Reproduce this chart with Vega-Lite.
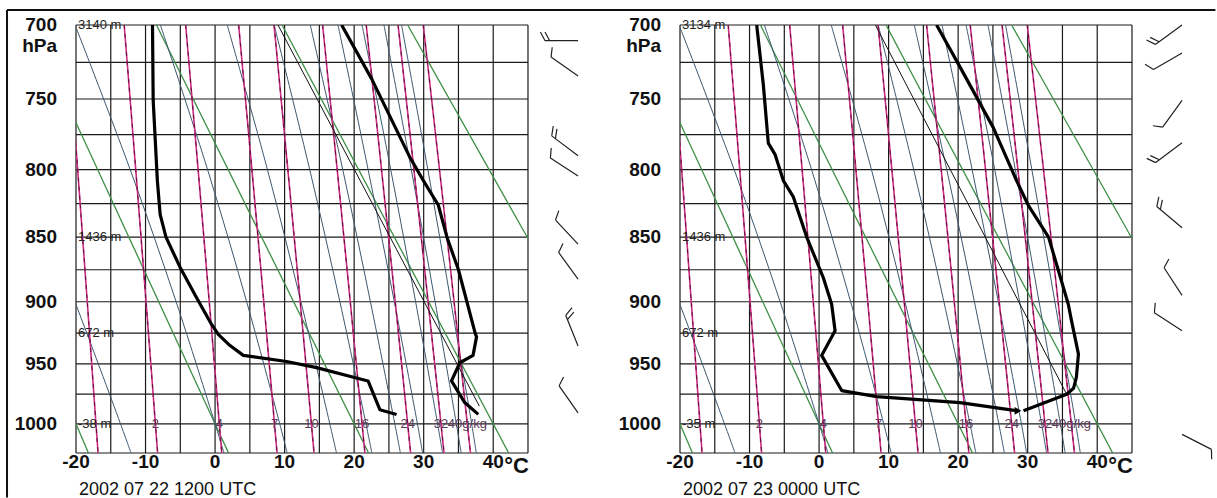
{
"$schema":"https://vega.github.io/schema/vega-lite/v6.json",
"background":"white",
"padding":{"left":6,"top":8,"right":0,"bottom":0},
"bounds":"flush",
"spacing":71,
"config":{"view":{"stroke":null},"text":{"font":"Liberation Sans"}},
"datasets":{
"gridT":[{"t":-20},{"t":-15},{"t":-10},{"t":-5},{"t":0},{"t":5},{"t":10},{"t":15},{"t":20},{"t":25},{"t":30},{"t":35},{"t":40},{"t":45}],
"gridP":[{"p":700},{"p":725},{"p":750},{"p":775},{"p":800},{"p":825},{"p":850},{"p":875},{"p":900},{"p":925},{"p":950},{"p":975},{"p":1000},{"p":1025}],
"ylab":[{"p":700,"s":"700"},{"p":750,"s":"750"},{"p":800,"s":"800"},{"p":850,"s":"850"},{"p":900,"s":"900"},{"p":950,"s":"950"},{"p":1000,"s":"1000"}],
"xlab":[{"t":-20,"s":"-20"},{"t":-10,"s":"-10"},{"t":0,"s":"0"},{"t":10,"s":"10"},{"t":20,"s":"20"},{"t":30,"s":"30"},{"t":40,"s":"40"}],
"dry":[{"id":"d1","p":700,"t":-44.55},{"id":"d1","p":1025,"t":-18.21},{"id":"d2","p":700,"t":-26.49},{"id":"d2","p":1025,"t":1.94},{"id":"d3","p":700,"t":-8.43},{"id":"d3","p":1025,"t":22.08},{"id":"d4","p":700,"t":9.63},{"id":"d4","p":1025,"t":42.22},{"id":"d5","p":700,"t":27.69},{"id":"d5","p":851.1,"t":45.0}],
"moist":[
{"id":"m1","p":800,"t":-27.64},{"id":"m1","p":900,"t":-20.16},{"id":"m1","p":1000,"t":-13.6},{"id":"m1","p":1025,"t":-12.09},
{"id":"m2","p":700,"t":-20.13},{"id":"m2","p":800,"t":-12.21},{"id":"m2","p":900,"t":-5.6},{"id":"m2","p":1000,"t":0},{"id":"m2","p":1025,"t":1.28},
{"id":"m3","p":700,"t":-7.86},{"id":"m3","p":800,"t":-1.08},{"id":"m3","p":900,"t":4.54},{"id":"m3","p":1000,"t":9.3},{"id":"m3","p":1025,"t":10.37},
{"id":"m4","p":700,"t":1.75},{"id":"m4","p":800,"t":7.53},{"id":"m4","p":900,"t":12.35},{"id":"m4","p":1000,"t":16.5},{"id":"m4","p":1025,"t":17.46},
{"id":"m5","p":700,"t":8.5},{"id":"m5","p":800,"t":13.61},{"id":"m5","p":900,"t":17.95},{"id":"m5","p":1000,"t":21.7},{"id":"m5","p":1025,"t":22.55},
{"id":"m6","p":700,"t":13.69},{"id":"m6","p":800,"t":18.36},{"id":"m6","p":900,"t":22.34},{"id":"m6","p":1000,"t":25.85},{"id":"m6","p":1025,"t":26.65},
{"id":"m7","p":700,"t":17.68},{"id":"m7","p":800,"t":22.01},{"id":"m7","p":900,"t":25.78},{"id":"m7","p":1000,"t":29.1},{"id":"m7","p":1025,"t":29.85},
{"id":"m8","p":700,"t":21.14},{"id":"m8","p":800,"t":25.26},{"id":"m8","p":900,"t":28.84},{"id":"m8","p":1000,"t":32.0},{"id":"m8","p":1025,"t":32.72},
{"id":"m9","p":700,"t":24.29},{"id":"m9","p":800,"t":28.22},{"id":"m9","p":900,"t":31.64},{"id":"m9","p":1000,"t":34.7},{"id":"m9","p":1025,"t":35.39},
{"id":"m10","p":700,"t":26.82},{"id":"m10","p":800,"t":30.6},{"id":"m10","p":900,"t":33.91},{"id":"m10","p":1000,"t":36.9},{"id":"m10","p":1025,"t":37.57}],
"mix":[
{"id":"w1","p":700,"t":-21.3},{"id":"w1","p":800,"t":-19.76},{"id":"w1","p":900,"t":-18.38},{"id":"w1","p":1025,"t":-16.83},
{"id":"w2","p":700,"t":-13.07},{"id":"w2","p":800,"t":-11.41},{"id":"w2","p":900,"t":-9.925},{"id":"w2","p":1025,"t":-8.264},
{"id":"w4","p":700,"t":-4.228},{"id":"w4","p":800,"t":-2.438},{"id":"w4","p":900,"t":-0.837},{"id":"w4","p":1025,"t":0.957},
{"id":"w7","p":700,"t":3.389},{"id":"w7","p":800,"t":5.296},{"id":"w7","p":900,"t":7.002},{"id":"w7","p":1025,"t":8.913},
{"id":"w10","p":700,"t":8.478},{"id":"w10","p":800,"t":10.464},{"id":"w10","p":900,"t":12.242},{"id":"w10","p":1025,"t":14.235},
{"id":"w16","p":700,"t":15.463},{"id":"w16","p":800,"t":17.561},{"id":"w16","p":900,"t":19.44},{"id":"w16","p":1025,"t":21.546},
{"id":"w24","p":700,"t":21.737},{"id":"w24","p":800,"t":23.937},{"id":"w24","p":900,"t":25.91},{"id":"w24","p":1025,"t":28.122},
{"id":"w32","p":700,"t":26.317},{"id":"w32","p":800,"t":28.595},{"id":"w32","p":900,"t":30.638},{"id":"w32","p":1025,"t":32.927},
{"id":"w40","p":700,"t":29.935},{"id":"w40","p":800,"t":32.275},{"id":"w40","p":900,"t":34.373},{"id":"w40","p":1025,"t":36.727}],
"mixlab":[{"t":-8.58,"s":"2"},{"t":0.61,"s":"4"},{"t":8.55,"s":"7"},{"t":13.85,"s":"10"},{"t":21.14,"s":"16"},{"t":27.7,"s":"24"},{"t":32.49,"s":"32"},{"t":36.28,"s":"40g/kg"}],
"parcelL":[{"p":985,"t":38.0},{"p":700,"t":9.05}],
"parcelR":[{"p":975,"t":35.6},{"p":700,"t":8.1}],
"profL":[
{"k":"T","p":700,"t":18.2},{"k":"T","p":736,"t":22.5},{"k":"T","p":791,"t":28.0},{"k":"T","p":808,"t":29.95},{"k":"T","p":826,"t":32.1},{"k":"T","p":851,"t":33.4},{"k":"T","p":875,"t":35.0},{"k":"T","p":925,"t":37.4},{"k":"T","p":928,"t":37.6},{"k":"T","p":943,"t":37.1},{"k":"T","p":949,"t":35.2},{"k":"T","p":964,"t":34.0},{"k":"T","p":982,"t":35.9},{"k":"T","p":992,"t":37.85},
{"k":"Td","p":700,"t":-9.0},{"k":"Td","p":751,"t":-8.9},{"k":"Td","p":808,"t":-8.3},{"k":"Td","p":833,"t":-7.9},{"k":"Td","p":850,"t":-7.06},{"k":"Td","p":873,"t":-5.04},{"k":"Td","p":897,"t":-2.64},{"k":"Td","p":918,"t":-0.5},{"k":"Td","p":926,"t":0.46},{"k":"Td","p":935,"t":2.15},{"k":"Td","p":943,"t":4.06},{"k":"Td","p":948,"t":10.3},{"k":"Td","p":953,"t":14.6},{"k":"Td","p":961,"t":19.9},{"k":"Td","p":964,"t":22.0},{"k":"Td","p":988,"t":23.7},{"k":"Td","p":992,"t":26.1}],
"profR":[
{"k":"T","p":700,"t":16.9},{"k":"T","p":728,"t":20.26},{"k":"T","p":770,"t":25.05},{"k":"T","p":808,"t":28.4},{"k":"T","p":826,"t":30.07},{"k":"T","p":850,"t":33.0},{"k":"T","p":902,"t":35.84},{"k":"T","p":915,"t":36.3},{"k":"T","p":942,"t":37.3},{"k":"T","p":961,"t":37.0},{"k":"T","p":970,"t":36.6},{"k":"T","p":975,"t":35.6},{"k":"T","p":989,"t":29.4},
{"k":"Td","p":700,"t":-8.97},{"k":"Td","p":740,"t":-8.02},{"k":"Td","p":781,"t":-7.3},{"k":"Td","p":789,"t":-6.34},{"k":"Td","p":808,"t":-5.14},{"k":"Td","p":820,"t":-3.7},{"k":"Td","p":850,"t":-1.78},{"k":"Td","p":881,"t":0.6},{"k":"Td","p":902,"t":1.81},{"k":"Td","p":923,"t":2.3},{"k":"Td","p":943,"t":0.37},{"k":"Td","p":972,"t":3.25},{"k":"Td","p":977,"t":8.3},{"k":"Td","p":982,"t":20.26},{"k":"Td","p":989,"t":28.6}],
"hgtL":[{"p":700,"s":"3140 m"},{"p":850,"s":"1436 m"},{"p":925,"s":"672 m"},{"p":1000,"s":"-38 m"}],
"hgtR":[{"p":700,"s":"3134 m"},{"p":850,"s":"1436 m"},{"p":925,"s":"672 m"},{"p":1000,"s":"-35 m"}],
"barbL":[{"p":710.4,"dir":270,"s":"b2"},{"p":734.2,"dir":305,"s":"b1"},{"p":790,"dir":307,"s":"b2"},{"p":804.6,"dir":303,"s":"b1"},{"p":855.4,"dir":317,"s":"b1"},{"p":882.3,"dir":324,"s":"b1"},{"p":935.3,"dir":338,"s":"b2"},{"p":990.7,"dir":325,"s":"b1"}],
"barbR":[{"p":700,"dir":234,"s":"b2"},{"p":718.6,"dir":240,"s":"b1"},{"p":751,"dir":216,"s":"b1"},{"p":780.7,"dir":233,"s":"b2"},{"p":843,"dir":310,"s":"b2"},{"p":895,"dir":327,"s":"b1"},{"p":923,"dir":303,"s":"b1"},{"p":1009,"dir":117,"s":"b1"}]
},
"hconcat":[
{
"width":533,"height":428,
"layer":[
{"data":{"name":"gridT"},"mark":{"type":"rule","color":"#1a1a1a","strokeWidth":1.2},"encoding":{
"x":{"field":"t","type":"quantitative","scale":{"domain":[-20,56.65],"nice":false,"zero":false},"axis":null},
"y":{"datum":700,"type":"quantitative","scale":{"type":"pow","exponent":0.286,"domain":[700,1025],"reverse":true,"nice":false,"zero":false},"axis":null},"y2":{"datum":1025}}},
{"data":{"name":"gridP"},"mark":{"type":"rule","color":"#1a1a1a","strokeWidth":1.2},"encoding":{"y":{"field":"p","type":"quantitative","axis":null},"x":{"datum":-20,"type":"quantitative","axis":null},"x2":{"datum":45}}},
{"data":{"name":"dry"},"mark":{"type":"line","color":"#3d8f45","strokeWidth":1.3,"clip":true},"encoding":{"x":{"field":"t","type":"quantitative","axis":null},"y":{"field":"p","type":"quantitative","axis":null},"detail":{"field":"id","type":"nominal"},"order":{"field":"p","type":"quantitative"}}},
{"data":{"name":"moist"},"mark":{"type":"line","color":"#3d5870","strokeWidth":1,"clip":true,"interpolate":"catmull-rom"},"encoding":{"x":{"field":"t","type":"quantitative","axis":null},"y":{"field":"p","type":"quantitative","axis":null},"detail":{"field":"id","type":"nominal"},"order":{"field":"p","type":"quantitative"}}},
{"data":{"name":"mix"},"mark":{"type":"line","color":"#cc2a85","strokeWidth":1.6,"clip":true,"interpolate":"catmull-rom"},"encoding":{"x":{"field":"t","type":"quantitative","axis":null},"y":{"field":"p","type":"quantitative","axis":null},"detail":{"field":"id","type":"nominal"},"order":{"field":"p","type":"quantitative"}}},
{"data":{"name":"mix"},"mark":{"type":"line","color":"#5a1030","strokeWidth":1,"strokeDash":[4,5],"clip":true,"interpolate":"catmull-rom"},"encoding":{"x":{"field":"t","type":"quantitative","axis":null},"y":{"field":"p","type":"quantitative","axis":null},"detail":{"field":"id","type":"nominal"},"order":{"field":"p","type":"quantitative"}}},
{"data":{"name":"parcelL"},"mark":{"type":"line","color":"#111","strokeWidth":1,"clip":true},"encoding":{"x":{"field":"t","type":"quantitative","axis":null},"y":{"field":"p","type":"quantitative","axis":null},"order":{"field":"p","type":"quantitative"}}},
{"data":{"name":"profL"},"mark":{"type":"line","color":"#000","strokeWidth":3.2,"strokeJoin":"round","clip":true},"encoding":{"x":{"field":"t","type":"quantitative","axis":null},"y":{"field":"p","type":"quantitative","axis":null},"detail":{"field":"k","type":"nominal"},"order":{"field":"p","type":"quantitative"}}},
{"data":{"name":"hgtL"},"mark":{"type":"text","align":"left","baseline":"middle","dx":2,"fontSize":13,"color":"#222"},"encoding":{"x":{"datum":-20,"type":"quantitative","axis":null},"y":{"field":"p","type":"quantitative","axis":null},"text":{"field":"s","type":"nominal"}}},
{"data":{"name":"mixlab"},"mark":{"type":"text","align":"center","baseline":"middle","fontSize":13,"color":"#5a3a5a"},"encoding":{"x":{"field":"t","type":"quantitative","axis":null},"y":{"datum":1000,"type":"quantitative","axis":null},"text":{"field":"s","type":"nominal"}}},
{"data":{"name":"ylab"},"mark":{"type":"text","align":"right","baseline":"middle","dx":-19,"fontSize":19,"fontWeight":"bold","color":"#111"},"encoding":{"x":{"datum":-20,"type":"quantitative","axis":null},"y":{"field":"p","type":"quantitative","axis":null},"text":{"field":"s","type":"nominal"}}},
{"data":{"name":"xlab"},"mark":{"type":"text","align":"center","baseline":"alphabetic","dy":15,"fontSize":19,"fontWeight":"bold","color":"#111"},"encoding":{"x":{"field":"t","type":"quantitative","axis":null},"y":{"datum":1025,"type":"quantitative","axis":null},"text":{"field":"s","type":"nominal"}}},
{"data":{"values":[{"s":"hPa"}]},"mark":{"type":"text","align":"right","baseline":"middle","dx":-19,"fontSize":19,"fontWeight":"bold","color":"#111"},"encoding":{"x":{"datum":-20,"type":"quantitative","axis":null},"y":{"datum":714,"type":"quantitative","axis":null},"text":{"field":"s","type":"nominal"}}},
{"data":{"values":[{"s":"°C"}]},"mark":{"type":"text","align":"left","baseline":"alphabetic","dx":11,"dy":20,"fontSize":22,"fontWeight":"bold","color":"#111"},"encoding":{"x":{"datum":40,"type":"quantitative","axis":null},"y":{"datum":1025,"type":"quantitative","axis":null},"text":{"field":"s","type":"nominal"}}},
{"data":{"values":[{"s":"2002 07 22 1200 UTC"}]},"mark":{"type":"text","align":"left","baseline":"alphabetic","dx":3,"dy":42,"fontSize":18,"color":"#111"},"encoding":{"x":{"datum":-20,"type":"quantitative","axis":null},"y":{"datum":1025,"type":"quantitative","axis":null},"text":{"field":"s","type":"nominal"}}},
{"data":{"values":[{"s":"top"}]},"mark":{"type":"rule","color":"#111","strokeWidth":2},"encoding":{"x":{"datum":-29.92,"type":"quantitative","axis":null},"x2":{"datum":70},"y":{"datum":690.1,"type":"quantitative","axis":null}}},
{"data":{"values":[{"s":"left"}]},"mark":{"type":"rule","color":"#111","strokeWidth":2},"encoding":{"x":{"datum":-29.92,"type":"quantitative","axis":null},"y":{"datum":690.1,"type":"quantitative","axis":null},"y2":{"datum":1064}}},
{"data":{"name":"barbL"},"mark":{"type":"point","filled":false,"opacity":1,"strokeWidth":1.2,"color":"#222","size":4356},"encoding":{"x":{"datum":52.2,"type":"quantitative","axis":null},"y":{"field":"p","type":"quantitative","axis":null},"shape":{"field":"s","type":"nominal","scale":{"domain":["b1","b2"],"range":["M0,0L0,-1M0,-1L0.265,-1.141","M0,0L0,-1M0,-1L0.265,-1.141M0,-0.86L0.265,-1.001"]},"legend":null},"angle":{"field":"dir","type":"quantitative","scale":null}}}
]
},
{
"width":533,"height":428,
"layer":[
{"data":{"name":"gridT"},"mark":{"type":"rule","color":"#1a1a1a","strokeWidth":1.2},"encoding":{
"x":{"field":"t","type":"quantitative","scale":{"domain":[-20,56.65],"nice":false,"zero":false},"axis":null},
"y":{"datum":700,"type":"quantitative","scale":{"type":"pow","exponent":0.286,"domain":[700,1025],"reverse":true,"nice":false,"zero":false},"axis":null},"y2":{"datum":1025}}},
{"data":{"name":"gridP"},"mark":{"type":"rule","color":"#1a1a1a","strokeWidth":1.2},"encoding":{"y":{"field":"p","type":"quantitative","axis":null},"x":{"datum":-20,"type":"quantitative","axis":null},"x2":{"datum":45}}},
{"data":{"name":"dry"},"mark":{"type":"line","color":"#3d8f45","strokeWidth":1.3,"clip":true},"encoding":{"x":{"field":"t","type":"quantitative","axis":null},"y":{"field":"p","type":"quantitative","axis":null},"detail":{"field":"id","type":"nominal"},"order":{"field":"p","type":"quantitative"}}},
{"data":{"name":"moist"},"mark":{"type":"line","color":"#3d5870","strokeWidth":1,"clip":true,"interpolate":"catmull-rom"},"encoding":{"x":{"field":"t","type":"quantitative","axis":null},"y":{"field":"p","type":"quantitative","axis":null},"detail":{"field":"id","type":"nominal"},"order":{"field":"p","type":"quantitative"}}},
{"data":{"name":"mix"},"mark":{"type":"line","color":"#cc2a85","strokeWidth":1.6,"clip":true,"interpolate":"catmull-rom"},"encoding":{"x":{"field":"t","type":"quantitative","axis":null},"y":{"field":"p","type":"quantitative","axis":null},"detail":{"field":"id","type":"nominal"},"order":{"field":"p","type":"quantitative"}}},
{"data":{"name":"mix"},"mark":{"type":"line","color":"#5a1030","strokeWidth":1,"strokeDash":[4,5],"clip":true,"interpolate":"catmull-rom"},"encoding":{"x":{"field":"t","type":"quantitative","axis":null},"y":{"field":"p","type":"quantitative","axis":null},"detail":{"field":"id","type":"nominal"},"order":{"field":"p","type":"quantitative"}}},
{"data":{"name":"parcelR"},"mark":{"type":"line","color":"#111","strokeWidth":1,"clip":true},"encoding":{"x":{"field":"t","type":"quantitative","axis":null},"y":{"field":"p","type":"quantitative","axis":null},"order":{"field":"p","type":"quantitative"}}},
{"data":{"name":"profR"},"mark":{"type":"line","color":"#000","strokeWidth":3.2,"strokeJoin":"round","clip":true},"encoding":{"x":{"field":"t","type":"quantitative","axis":null},"y":{"field":"p","type":"quantitative","axis":null},"detail":{"field":"k","type":"nominal"},"order":{"field":"p","type":"quantitative"}}},
{"data":{"values":[{"p":989,"t":28.6}]},"mark":{"type":"point","shape":"triangle-right","filled":true,"color":"#000","size":60,"opacity":1},"encoding":{"x":{"field":"t","type":"quantitative","axis":null},"y":{"field":"p","type":"quantitative","axis":null}}},
{"data":{"name":"hgtR"},"mark":{"type":"text","align":"left","baseline":"middle","dx":2,"fontSize":13,"color":"#222"},"encoding":{"x":{"datum":-20,"type":"quantitative","axis":null},"y":{"field":"p","type":"quantitative","axis":null},"text":{"field":"s","type":"nominal"}}},
{"data":{"name":"mixlab"},"mark":{"type":"text","align":"center","baseline":"middle","fontSize":13,"color":"#5a3a5a"},"encoding":{"x":{"field":"t","type":"quantitative","axis":null},"y":{"datum":1000,"type":"quantitative","axis":null},"text":{"field":"s","type":"nominal"}}},
{"data":{"name":"ylab"},"mark":{"type":"text","align":"right","baseline":"middle","dx":-19,"fontSize":19,"fontWeight":"bold","color":"#111"},"encoding":{"x":{"datum":-20,"type":"quantitative","axis":null},"y":{"field":"p","type":"quantitative","axis":null},"text":{"field":"s","type":"nominal"}}},
{"data":{"name":"xlab"},"mark":{"type":"text","align":"center","baseline":"alphabetic","dy":15,"fontSize":19,"fontWeight":"bold","color":"#111"},"encoding":{"x":{"field":"t","type":"quantitative","axis":null},"y":{"datum":1025,"type":"quantitative","axis":null},"text":{"field":"s","type":"nominal"}}},
{"data":{"values":[{"s":"hPa"}]},"mark":{"type":"text","align":"right","baseline":"middle","dx":-19,"fontSize":19,"fontWeight":"bold","color":"#111"},"encoding":{"x":{"datum":-20,"type":"quantitative","axis":null},"y":{"datum":714,"type":"quantitative","axis":null},"text":{"field":"s","type":"nominal"}}},
{"data":{"values":[{"s":"°C"}]},"mark":{"type":"text","align":"left","baseline":"alphabetic","dx":11,"dy":20,"fontSize":22,"fontWeight":"bold","color":"#111"},"encoding":{"x":{"datum":40,"type":"quantitative","axis":null},"y":{"datum":1025,"type":"quantitative","axis":null},"text":{"field":"s","type":"nominal"}}},
{"data":{"values":[{"s":"2002 07 23 0000 UTC"}]},"mark":{"type":"text","align":"left","baseline":"alphabetic","dx":3,"dy":42,"fontSize":18,"color":"#111"},"encoding":{"x":{"datum":-20,"type":"quantitative","axis":null},"y":{"datum":1025,"type":"quantitative","axis":null},"text":{"field":"s","type":"nominal"}}},
{"data":{"values":[{"s":"top"}]},"mark":{"type":"rule","color":"#111","strokeWidth":2},"encoding":{"x":{"datum":-29.92,"type":"quantitative","axis":null},"x2":{"datum":57.0},"y":{"datum":690.1,"type":"quantitative","axis":null}}},
{"data":{"name":"barbR"},"mark":{"type":"point","filled":false,"opacity":1,"strokeWidth":1.2,"color":"#222","size":4356},"encoding":{"x":{"datum":52.2,"type":"quantitative","axis":null},"y":{"field":"p","type":"quantitative","axis":null},"shape":{"field":"s","type":"nominal","scale":{"domain":["b1","b2"],"range":["M0,0L0,-1M0,-1L0.265,-1.141","M0,0L0,-1M0,-1L0.265,-1.141M0,-0.86L0.265,-1.001"]},"legend":null},"angle":{"field":"dir","type":"quantitative","scale":null}}}
]
}
]
}
